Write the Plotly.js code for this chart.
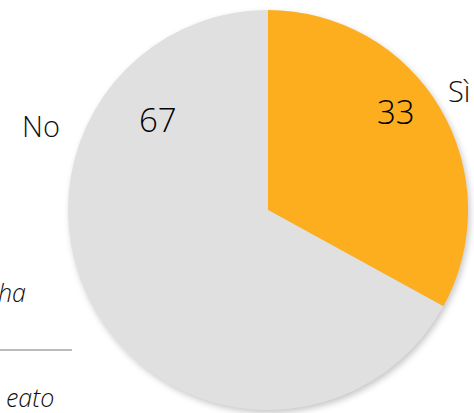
<!DOCTYPE html>
<html><head><meta charset="utf-8">
<script src="https://cdn.plot.ly/plotly-3.0.1.min.js"></script>
<style>
html,body{margin:0;padding:0;background:#fff;}
#chart{width:474px;height:413px;}
.pielayer{filter:drop-shadow(2px 3px 3px rgba(0,0,0,0.22));}
</style></head>
<body><div id="chart"></div>
<script>
const labels = ["Sì", "No"];
const values = [33, 67];
const colors = ["#FCAE1E", "#E0E0E0"];
const sideTexts = ["ha", "eato"];

const W = 474, H = 413;
const px = x => x / W, py = y => 1 - y / H;

const data = [{
  type: "pie",
  labels: labels,
  values: values,
  sort: false,
  direction: "clockwise",
  rotation: 0,
  marker: {colors: colors, line: {width: 0}},
  textinfo: "none",
  hoverinfo: "none",
  showlegend: false,
  domain: {x: [px(68), px(468)], y: [py(410), py(10)]}
}];

const numFont = {family: "Open Sans, sans-serif", size: 33, color: "#000", weight: 300};
const lblFont = {family: "Open Sans, sans-serif", size: 29, color: "#111", weight: 300};
const itFont = {family: "Open Sans, sans-serif", size: 25, color: "#111", style: "italic", weight: 300};

const annotations = [
  {x: px(396), y: py(112), text: String(values[0]), font: numFont},
  {x: px(158), y: py(120), text: String(values[1]), font: numFont},
  {x: px(446), y: py(90), text: labels[0], font: lblFont, xanchor: "left"},
  {x: px(62), y: py(125), text: labels[1], font: lblFont, xanchor: "right"},
  {x: px(28), y: py(292), text: sideTexts[0], font: itFont, xanchor: "right"},
  {x: px(56), y: py(397), text: sideTexts[1], font: itFont, xanchor: "right"}
].map(a => Object.assign({xref: "paper", yref: "paper", showarrow: false, yanchor: "middle", xanchor: "center"}, a));

const layout = {
  width: W, height: H,
  margin: {l: 0, r: 0, t: 0, b: 0},
  paper_bgcolor: "#fff",
  annotations: annotations,
  shapes: [{type: "line", xref: "paper", yref: "paper", x0: 0, x1: px(72), y0: py(350), y1: py(350),
            line: {color: "#BBBBBB", width: 2}}]
};

Plotly.newPlot("chart", data, layout, {displayModeBar: false, staticPlot: true});
</script></body></html>
